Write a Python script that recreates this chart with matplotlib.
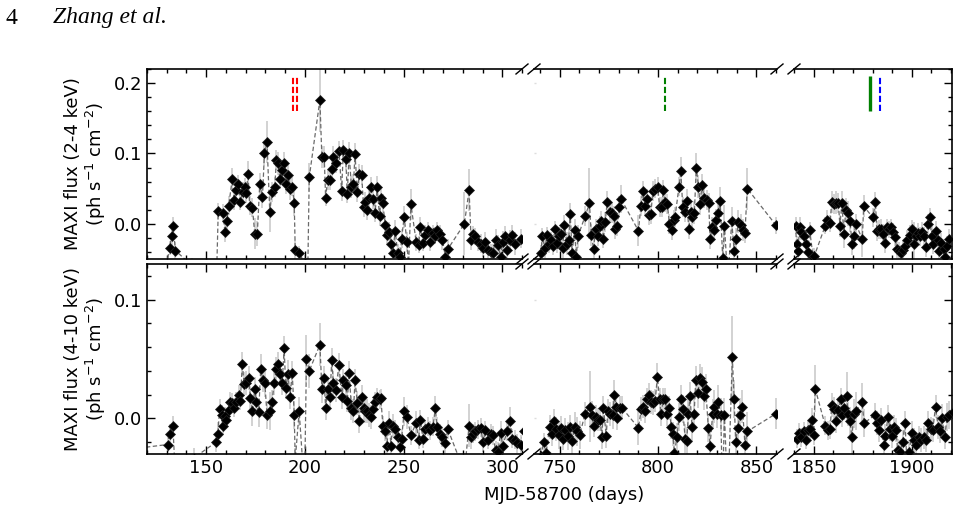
import matplotlib
matplotlib.use('Agg')
import matplotlib.pyplot as plt
from matplotlib.ticker import MultipleLocator

# ---------------- data: soft band (2-4 keV) ----------------
t_soft_1 = [116.0, 131.4, 132.5, 133.2, 134.4, 143.0, 155.0, 156.1, 158.5, 159.5,
            160.5, 161.4, 163.2, 164.1, 165.3, 166.3, 167.1, 168.5, 169.5, 170.3,
            171.2, 172.0, 173.4, 174.6, 175.9, 177.1, 178.5, 179.5, 180.8, 182.2,
            183.4, 184.7, 185.6, 186.4, 187.3, 188.5, 189.3, 190.3, 191.5, 192.4,
            193.6, 194.6, 195.1, 197.1, 199.8, 201.0, 202.2, 207.6, 208.6, 209.8,
            210.5, 211.5, 212.7, 213.6, 214.4, 215.6, 217.3, 218.6, 219.5, 220.7,
            221.5, 222.4, 223.6, 224.6, 225.4, 226.6, 227.5, 228.8, 229.7, 230.5,
            231.4, 232.5, 233.4, 234.4, 235.6, 236.6, 237.8, 238.5, 239.5, 240.7,
            241.5, 242.7, 243.6, 244.4, 245.8, 247.0, 248.3, 249.0, 250.3, 251.7,
            252.5, 253.7, 256.4, 257.6, 258.5, 259.8, 261.0, 262.4, 263.6, 264.9,
            266.1, 266.9, 268.3, 269.7, 271.2, 272.4, 280.8, 283.2, 284.2, 285.3,
            286.4, 287.6, 289.0, 290.3, 291.5, 292.7, 294.1, 295.3, 296.6, 297.8,
            299.2, 300.2, 301.4, 302.5, 303.9, 305.1, 306.3, 309.3]
f_soft_1 = [-0.300, -0.034, -0.018, -0.003, -0.038, -0.060, -0.100, 0.018, 0.016, -0.012,
            0.004, 0.026, 0.064, 0.034, 0.048, 0.056, 0.031, 0.045, 0.053, 0.044,
            0.071, 0.026, 0.023, -0.014, -0.014, 0.056, 0.038, 0.100, 0.116, 0.017,
            0.045, 0.052, 0.091, 0.086, 0.064, 0.076, 0.086, 0.057, 0.069, 0.050,
            0.053, 0.029, -0.037, -0.042, -0.055, -0.150, 0.066, 0.176, 0.095, 0.095,
            0.037, 0.062, 0.062, 0.078, 0.095, 0.086, 0.104, 0.047, 0.105, 0.092,
            0.043, 0.100, 0.052, 0.057, 0.099, 0.045, 0.071, 0.069, 0.024, 0.031,
            0.019, 0.036, 0.052, 0.035, 0.016, 0.052, 0.011, 0.036, 0.029, -0.002,
            -0.016, -0.011, -0.028, -0.041, -0.010, -0.042, -0.047, -0.021, 0.010, -0.026,
            -0.060, 0.028, -0.026, -0.030, -0.004, -0.027, -0.016, -0.009, -0.026, -0.013,
            -0.017, -0.009, -0.014, -0.023, -0.047, -0.036, 0.000, 0.048, -0.023, -0.015,
            -0.018, -0.026, -0.028, -0.035, -0.026, -0.037, -0.040, -0.041, -0.023, -0.030,
            -0.047, -0.026, -0.017, -0.037, -0.023, -0.016, -0.028, -0.021]
e_soft_1 = [0.010, 0.010, 0.012, 0.012, 0.012, 0.012, 0.012, 0.012, 0.012, 0.014,
            0.012, 0.014, 0.016, 0.014, 0.014, 0.014, 0.012, 0.014, 0.012, 0.014,
            0.018, 0.014, 0.014, 0.022, 0.018, 0.016, 0.016, 0.018, 0.030, 0.028,
            0.014, 0.014, 0.014, 0.016, 0.014, 0.014, 0.016, 0.014, 0.014, 0.016,
            0.014, 0.018, 0.014, 0.010, 0.010, 0.010, 0.020, 0.045, 0.015, 0.016,
            0.012, 0.014, 0.014, 0.014, 0.016, 0.014, 0.014, 0.014, 0.014, 0.016,
            0.014, 0.016, 0.016, 0.014, 0.016, 0.014, 0.014, 0.014, 0.014, 0.014,
            0.014, 0.014, 0.014, 0.014, 0.014, 0.016, 0.014, 0.014, 0.014, 0.012,
            0.012, 0.014, 0.014, 0.014, 0.016, 0.014, 0.014, 0.014, 0.016, 0.014,
            0.014, 0.022, 0.012, 0.012, 0.014, 0.012, 0.014, 0.012, 0.012, 0.012,
            0.012, 0.012, 0.012, 0.014, 0.014, 0.014, 0.045, 0.030, 0.014, 0.012,
            0.012, 0.012, 0.014, 0.012, 0.014, 0.012, 0.012, 0.012, 0.016, 0.014,
            0.014, 0.016, 0.014, 0.014, 0.014, 0.014, 0.016, 0.014]

t_soft_2 = [740.5, 741.2, 742.6, 743.6, 744.6, 745.6, 746.6, 747.5, 748.6, 749.7,
            750.7, 751.5, 752.5, 753.7, 754.6, 755.4, 756.4, 757.6, 758.5, 759.3,
            763.0, 765.2, 766.1, 767.3, 768.3, 769.3, 770.3, 771.3, 772.3, 773.2,
            774.2, 775.7, 776.7, 777.7, 778.4, 779.4, 780.3, 781.3, 790.1, 791.3,
            792.3, 793.3, 794.3, 795.3, 796.4, 797.4, 798.6, 799.9, 800.8, 801.8,
            802.8, 803.6, 804.8, 805.8, 806.9, 807.9, 808.7, 810.7, 811.6, 812.6,
            813.6, 814.6, 815.7, 816.7, 817.5, 818.5, 819.5, 820.6, 821.4, 822.4,
            823.4, 824.8, 825.8, 826.5, 827.5, 828.5, 829.5, 830.7, 831.6, 832.9,
            833.8, 835.5, 837.5, 838.7, 839.7, 840.9, 842.0, 843.1, 844.2, 845.4,
            860.0]
f_soft_2 = [-0.042, -0.018, -0.035, -0.016, -0.028, -0.023, -0.031, -0.008, -0.027, -0.018,
            -0.014, -0.035, -0.002, -0.028, -0.023, 0.014, -0.041, -0.009, -0.047, -0.018,
            0.011, 0.029, -0.016, -0.036, -0.007, -0.017, -0.003, 0.004, -0.021, 0.003,
            0.031, 0.017, 0.015, 0.011, -0.008, -0.003, 0.024, 0.035, -0.010, 0.025,
            0.047, 0.026, 0.035, 0.012, 0.014, 0.047, 0.050, 0.053, 0.024, 0.024,
            0.048, 0.031, 0.028, 0.000, -0.009, 0.005, 0.010, 0.053, 0.075, 0.024,
            0.017, 0.033, -0.008, 0.017, 0.010, 0.016, 0.080, 0.053, 0.028, 0.055,
            0.037, 0.034, 0.030, -0.022, -0.005, -0.009, 0.005, 0.016, 0.033, -0.049,
            -0.003, -0.080, 0.004, -0.038, -0.022, 0.003, -0.002, -0.009, -0.013, 0.050,
            -0.002]
e_soft_2 = [0.012, 0.012, 0.014, 0.012, 0.014, 0.012, 0.014, 0.012, 0.014, 0.014,
            0.012, 0.014, 0.014, 0.016, 0.014, 0.016, 0.014, 0.016, 0.014, 0.016,
            0.014, 0.050, 0.016, 0.016, 0.014, 0.014, 0.014, 0.014, 0.014, 0.014,
            0.016, 0.014, 0.014, 0.014, 0.014, 0.014, 0.016, 0.020, 0.022, 0.014,
            0.014, 0.014, 0.014, 0.014, 0.014, 0.014, 0.014, 0.014, 0.014, 0.014,
            0.014, 0.014, 0.014, 0.014, 0.014, 0.014, 0.014, 0.014, 0.020, 0.014,
            0.014, 0.016, 0.014, 0.014, 0.014, 0.016, 0.020, 0.016, 0.016, 0.016,
            0.014, 0.014, 0.014, 0.014, 0.014, 0.016, 0.016, 0.016, 0.020, 0.014,
            0.030, 0.014, 0.020, 0.016, 0.016, 0.016, 0.016, 0.016, 0.014, 0.030,
            0.012]

t_soft_3 = [1840.8, 1841.3, 1841.9, 1843.0, 1843.8, 1845.0, 1846.0, 1847.0, 1848.0, 1849.7,
            1850.3, 1855.9, 1857.0, 1858.4, 1859.2, 1860.4, 1861.4, 1862.6, 1863.4, 1864.4,
            1865.4, 1866.4, 1867.6, 1868.5, 1869.6, 1870.6, 1871.5, 1874.8, 1875.5, 1880.2,
            1881.5, 1882.2, 1883.2, 1884.2, 1885.2, 1886.6, 1887.6, 1888.6, 1889.6, 1890.6,
            1891.6, 1892.3, 1893.3, 1894.5, 1895.6, 1896.6, 1897.8, 1899.0, 1900.0, 1901.2,
            1902.0, 1903.2, 1904.2, 1905.0, 1906.2, 1907.0, 1908.1, 1909.1, 1910.1, 1910.9,
            1912.1, 1913.3, 1914.1, 1915.1, 1916.3, 1917.1, 1918.1, 1919.1]
f_soft_3 = [-0.003, -0.029, -0.038, -0.004, -0.011, -0.018, -0.029, -0.040, -0.009, -0.047,
            -0.046, -0.003, 0.006, 0.001, 0.031, 0.028, 0.030, 0.030, -0.003, 0.030,
            -0.015, 0.020, 0.015, 0.004, -0.029, -0.018, 0.000, -0.022, 0.025, 0.009,
            0.031, -0.010, -0.008, -0.007, -0.014, -0.027, -0.005, -0.008, -0.005, -0.011,
            -0.019, -0.036, -0.038, -0.042, -0.037, -0.032, -0.023, -0.016, -0.008, -0.029,
            -0.018, -0.013, -0.018, -0.011, -0.018, -0.033, 0.000, 0.009, -0.017, -0.029,
            -0.010, -0.023, -0.038, -0.027, -0.036, -0.047, -0.032, -0.022]
e_soft_3 = [0.012, 0.012, 0.012, 0.014, 0.012, 0.014, 0.012, 0.012, 0.012, 0.012,
            0.012, 0.012, 0.014, 0.012, 0.016, 0.014, 0.016, 0.014, 0.016, 0.016,
            0.020, 0.016, 0.018, 0.016, 0.016, 0.018, 0.014, 0.025, 0.016, 0.014,
            0.014, 0.014, 0.014, 0.014, 0.014, 0.014, 0.012, 0.012, 0.012, 0.012,
            0.012, 0.012, 0.012, 0.012, 0.012, 0.012, 0.014, 0.014, 0.014, 0.032,
            0.014, 0.014, 0.014, 0.014, 0.014, 0.014, 0.014, 0.014, 0.014, 0.014,
            0.014, 0.014, 0.014, 0.014, 0.014, 0.014, 0.014, 0.014]

# ---------------- data: hard band (4-10 keV) ----------------
t_hard_1 = [116.0, 130.5, 131.4, 133.1, 134.4, 144.0, 155.0, 155.9, 156.8, 158.0,
            158.5, 159.3, 160.2, 161.4, 162.2, 163.2, 164.1, 165.3, 166.4, 167.3,
            168.3, 169.2, 170.3, 171.5, 172.4, 173.4, 174.6, 175.4, 176.6, 177.6,
            178.8, 179.7, 180.8, 182.2, 183.4, 184.4, 185.3, 186.4, 187.3, 188.5,
            189.5, 190.3, 191.5, 192.4, 193.6, 194.6, 195.1, 197.1, 199.8, 200.8,
            202.2, 207.6, 208.6, 209.7, 210.5, 211.5, 212.7, 213.6, 214.4, 215.6,
            217.3, 218.6, 219.5, 220.7, 221.5, 222.4, 223.6, 224.6, 225.4, 226.6,
            227.5, 228.8, 229.7, 230.5, 231.4, 232.5, 233.4, 234.4, 235.6, 236.6,
            237.8, 238.5, 239.5, 240.7, 241.5, 242.7, 243.6, 244.4, 245.8, 247.0,
            248.3, 249.0, 250.3, 251.7, 253.7, 256.4, 257.6, 258.5, 259.8, 261.0,
            262.4, 263.6, 264.9, 266.1, 266.9, 268.3, 269.7, 271.2, 272.4, 280.8,
            283.2, 284.2, 285.3, 286.4, 287.6, 289.0, 290.3, 291.5, 292.7, 294.1,
            295.3, 296.6, 297.8, 299.2, 300.2, 302.5, 303.9, 305.1, 306.3, 307.5,
            309.3, 311.0]
f_hard_1 = [-0.025, -0.022, -0.013, -0.006, -0.050, -0.033, -0.020, -0.013, 0.008, 0.003,
            -0.006, 0.002, -0.001, 0.007, 0.014, 0.013, 0.009, 0.014, 0.020, 0.015,
            0.046, 0.029, 0.030, 0.034, 0.017, 0.006, 0.025, 0.014, 0.005, 0.042,
            0.032, 0.030, 0.003, 0.006, 0.014, 0.030, 0.042, 0.046, 0.037, 0.030,
            0.059, 0.026, 0.037, 0.018, 0.038, 0.003, -0.035, 0.006, -0.060, 0.050,
            0.040, 0.062, 0.025, 0.034, 0.009, 0.025, 0.018, 0.049, 0.030, 0.024,
            0.045, 0.018, 0.032, 0.028, 0.015, 0.038, 0.009, 0.006, 0.032, 0.013,
            -0.002, 0.018, 0.009, 0.006, 0.006, 0.003, 0.001, 0.008, 0.014, 0.018,
            0.016, 0.017, -0.006, -0.011, -0.023, -0.004, -0.023, -0.006, -0.009, -0.016,
            -0.024, -0.017, 0.006, 0.001, -0.014, -0.004, -0.018, -0.001, -0.017, -0.009,
            -0.007, -0.010, -0.007, 0.009, -0.007, -0.013, -0.016, -0.021, -0.009, -0.045,
            -0.006, -0.016, -0.013, -0.011, -0.009, -0.008, -0.020, -0.010, -0.018, -0.013,
            -0.014, -0.027, -0.028, -0.012, -0.023, -0.011, -0.002, -0.017, -0.018, -0.021,
            -0.022, -0.011]
e_hard_1 = [0.006, 0.006, 0.008, 0.008, 0.008, 0.008, 0.008, 0.010, 0.008, 0.008,
            0.008, 0.008, 0.008, 0.008, 0.008, 0.008, 0.008, 0.008, 0.008, 0.008,
            0.010, 0.010, 0.010, 0.010, 0.010, 0.012, 0.010, 0.010, 0.012, 0.012,
            0.010, 0.012, 0.012, 0.016, 0.010, 0.010, 0.010, 0.010, 0.010, 0.010,
            0.010, 0.010, 0.012, 0.010, 0.010, 0.012, 0.010, 0.012, 0.010, 0.020,
            0.014, 0.018, 0.012, 0.010, 0.010, 0.010, 0.010, 0.010, 0.010, 0.010,
            0.010, 0.010, 0.010, 0.010, 0.010, 0.010, 0.010, 0.010, 0.010, 0.010,
            0.010, 0.010, 0.010, 0.010, 0.010, 0.010, 0.010, 0.008, 0.008, 0.008,
            0.008, 0.008, 0.008, 0.008, 0.008, 0.010, 0.008, 0.010, 0.008, 0.008,
            0.008, 0.008, 0.012, 0.010, 0.008, 0.010, 0.008, 0.008, 0.008, 0.008,
            0.008, 0.008, 0.008, 0.010, 0.008, 0.008, 0.008, 0.008, 0.008, 0.010,
            0.018, 0.010, 0.008, 0.008, 0.008, 0.008, 0.008, 0.008, 0.008, 0.008,
            0.008, 0.008, 0.008, 0.010, 0.008, 0.008, 0.012, 0.008, 0.008, 0.008,
            0.008, 0.008]

t_hard_2 = [740.5, 741.9, 743.2, 744.9, 746.1, 747.3, 748.3, 749.5, 750.7, 751.7,
            752.9, 754.1, 755.4, 756.4, 757.6, 758.8, 760.2, 763.0, 765.6, 766.4,
            767.3, 768.3, 769.5, 770.6, 771.5, 772.3, 773.7, 774.5, 775.7, 776.9,
            777.9, 778.7, 779.4, 780.5, 781.6, 790.1, 791.5, 792.6, 793.5, 794.3,
            795.3, 796.4, 797.4, 798.6, 799.7, 800.8, 801.6, 802.8, 803.6, 804.8,
            805.8, 806.7, 807.5, 808.4, 809.6, 810.7, 811.6, 812.6, 813.8, 814.6,
            815.5, 816.3, 817.3, 818.4, 819.2, 820.2, 821.4, 822.4, 823.3, 824.3,
            825.6, 826.5, 827.8, 828.7, 829.9, 830.7, 831.9, 832.8, 833.8, 835.5,
            837.8, 838.7, 839.5, 840.5, 841.7, 842.9, 844.2, 845.4, 860.0]
f_hard_2 = [-0.032, -0.020, -0.029, -0.007, -0.013, -0.002, -0.009, -0.014, -0.008, -0.017,
            -0.010, -0.015, -0.007, -0.019, -0.007, -0.011, -0.014, 0.004, 0.010, 0.003,
            -0.006, 0.001, -0.001, -0.001, -0.016, 0.009, -0.015, 0.006, 0.004, 0.003,
            0.020, 0.010, 0.000, 0.009, 0.009, -0.008, 0.008, 0.010, 0.006, 0.016,
            0.020, 0.014, 0.013, 0.015, 0.035, 0.016, 0.004, 0.016, 0.016, 0.004,
            0.009, -0.007, -0.013, -0.029, -0.016, 0.001, 0.016, 0.008, -0.017, -0.019,
            0.004, 0.019, -0.007, 0.004, 0.032, 0.021, 0.034, 0.031, 0.019, 0.025,
            -0.008, -0.023, 0.004, 0.010, 0.004, 0.014, 0.003, -0.060, 0.003, -0.070,
            0.052, 0.016, -0.020, -0.008, 0.003, 0.010, -0.022, -0.011, 0.004]
e_hard_2 = [0.008, 0.008, 0.008, 0.010, 0.010, 0.010, 0.010, 0.012, 0.010, 0.010,
            0.010, 0.012, 0.010, 0.012, 0.012, 0.012, 0.012, 0.010, 0.030, 0.012,
            0.010, 0.010, 0.010, 0.010, 0.010, 0.010, 0.010, 0.010, 0.010, 0.012,
            0.012, 0.010, 0.010, 0.010, 0.010, 0.014, 0.010, 0.010, 0.010, 0.010,
            0.010, 0.010, 0.010, 0.010, 0.012, 0.010, 0.010, 0.010, 0.010, 0.010,
            0.010, 0.010, 0.010, 0.010, 0.012, 0.012, 0.012, 0.012, 0.012, 0.012,
            0.012, 0.012, 0.012, 0.012, 0.012, 0.012, 0.012, 0.012, 0.012, 0.012,
            0.012, 0.012, 0.012, 0.014, 0.012, 0.014, 0.014, 0.012, 0.014, 0.012,
            0.034, 0.016, 0.014, 0.014, 0.014, 0.014, 0.014, 0.016, 0.013]

t_hard_3 = [1841.3, 1842.5, 1843.6, 1845.0, 1846.1, 1847.1, 1848.3, 1849.2, 1850.0, 1850.8,
            1855.9, 1857.2, 1858.4, 1859.2, 1860.4, 1861.4, 1862.6, 1863.8, 1864.6, 1865.6,
            1866.8, 1867.6, 1868.5, 1869.5, 1870.5, 1871.8, 1874.7, 1875.7, 1881.4, 1882.2,
            1883.2, 1884.4, 1885.6, 1886.6, 1887.8, 1889.0, 1890.0, 1891.1, 1892.0, 1892.8,
            1894.0, 1895.3, 1896.6, 1897.6, 1898.7, 1900.0, 1901.2, 1902.3, 1903.7, 1904.9,
            1906.2, 1907.4, 1908.4, 1909.6, 1910.7, 1912.1, 1913.4, 1914.6, 1915.4, 1916.8,
            1918.0, 1919.1, 1921.0]
f_hard_3 = [-0.017, -0.012, -0.016, -0.011, -0.018, -0.010, -0.009, -0.001, -0.014, 0.025,
            -0.006, -0.010, -0.009, 0.011, 0.008, -0.002, 0.007, 0.016, 0.003, 0.009,
            0.019, 0.004, -0.002, -0.016, 0.004, 0.006, 0.014, -0.004, 0.003, -0.004,
            -0.010, -0.001, -0.022, -0.015, 0.001, -0.009, -0.015, -0.007, -0.010, -0.027,
            -0.028, -0.020, -0.004, -0.040, -0.028, -0.012, -0.018, -0.022, -0.016, -0.018,
            -0.016, -0.018, -0.004, -0.009, -0.010, 0.010, -0.007, -0.011, 0.000, -0.016,
            0.001, 0.003, 0.005]
e_hard_3 = [0.008, 0.008, 0.008, 0.008, 0.008, 0.008, 0.008, 0.010, 0.008, 0.020,
            0.008, 0.008, 0.008, 0.010, 0.010, 0.010, 0.010, 0.010, 0.010, 0.010,
            0.020, 0.010, 0.012, 0.016, 0.012, 0.016, 0.016, 0.012, 0.010, 0.010,
            0.010, 0.010, 0.010, 0.010, 0.010, 0.010, 0.010, 0.010, 0.010, 0.010,
            0.010, 0.010, 0.010, 0.010, 0.010, 0.010, 0.010, 0.010, 0.010, 0.010,
            0.010, 0.010, 0.010, 0.010, 0.010, 0.010, 0.010, 0.010, 0.012, 0.010,
            0.012, 0.012, 0.012]

# event markers (x positions, data units)
red_events = [193.8, 196.0]
green_dashed_events = [803.5]
green_solid_events = [1878.5]
blue_dashed_events = [1883.6]
event_ymin, event_ymax = 0.16, 0.21

soft_label = 'MAXI flux (2-4 keV)\n(ph s$^{-1}$ cm$^{-2}$)'
hard_label = 'MAXI flux (4-10 keV)\n(ph s$^{-1}$ cm$^{-2}$)'
xlabel = 'MJD-58700 (days)'

# ---------------- layout ----------------
W, H = 965, 512
fig = plt.figure(figsize=(W / 100, H / 100), dpi=100)

cols_px = [(147, 522), (534, 777), (794, 952)]
rows_px = [(69, 259), (264, 454)]
xlims = [(120, 310), (737, 860.5), (1840, 1920.5)]
ylims = [(-0.05, 0.22), (-0.03, 0.13)]

data = [
    [(t_soft_1, f_soft_1, e_soft_1), (t_soft_2, f_soft_2, e_soft_2), (t_soft_3, f_soft_3, e_soft_3)],
    [(t_hard_1, f_hard_1, e_hard_1), (t_hard_2, f_hard_2, e_hard_2), (t_hard_3, f_hard_3, e_hard_3)],
]

FS = 13
axes = [[None] * 3 for _ in range(2)]
for r, (y0, y1) in enumerate(rows_px):
    for c, (x0, x1) in enumerate(cols_px):
        ax = fig.add_axes([x0 / W, 1 - y1 / H, (x1 - x0) / W, (y1 - y0) / H])
        axes[r][c] = ax
        t, f, e = data[r][c]
        ax.errorbar(t, f, yerr=e, fmt='none', ecolor='#cbcbcb', elinewidth=1.2, zorder=1)
        ax.plot(t, f, ls=(0, (3.5, 2)), color='#6a6a6a', lw=0.9, zorder=2)
        ax.plot(t, f, ls='none', marker='D', color='k', ms=5.2, mec='#222222', mew=0.5, zorder=3)
        ax.set_xlim(*xlims[c])
        ax.set_ylim(*ylims[r])
        ax.xaxis.set_major_locator(MultipleLocator(50))
        ax.xaxis.set_minor_locator(MultipleLocator(10))
        ax.yaxis.set_major_locator(MultipleLocator(0.1))
        ax.yaxis.set_minor_locator(MultipleLocator(0.02))
        for s in ax.spines.values():
            s.set_linewidth(1.2)
        ax.spines['left'].set_visible(c == 0)
        ax.spines['right'].set_visible(c == 2)
        ax.tick_params(which='both', direction='in', top=True, bottom=True,
                       left=(c == 0), right=(c == 2), labelsize=FS, width=1.0,
                       labelleft=(c == 0), labelright=False, labelbottom=(r == 1))
        ax.tick_params(which='major', length=5.5)
        ax.tick_params(which='minor', length=3.2)
        if c == 1:
            ax.tick_params(axis='y', which='major', left=True, color='#dddddd', length=1.5)
        # break marks
        w_px, h_px = x1 - x0, y1 - y0
        dx, dy = 6 / w_px, 5 / h_px
        kw = dict(transform=ax.transAxes, color='k', clip_on=False, lw=1.0)
        if c < 2:
            ax.plot([1 - dx, 1 + dx], [-dy, dy], **kw)
            ax.plot([1 - dx, 1 + dx], [1 - dy, 1 + dy], **kw)
        if c > 0:
            ax.plot([-dx, dx], [-dy, dy], **kw)
            ax.plot([-dx, dx], [1 - dy, 1 + dy], **kw)

# event lines (top row)
axes[0][0].vlines(red_events, event_ymin, event_ymax, colors='red', linestyles=(0, (3, 1.3)), lw=1.5, zorder=4)
axes[0][1].vlines(green_dashed_events, event_ymin, event_ymax, colors='green', linestyles=(0, (3, 1.3)), lw=1.5, zorder=4)
axes[0][2].vlines(green_solid_events, event_ymin, event_ymax, colors='green', linestyles='-', lw=2.4, zorder=4)
axes[0][2].vlines(blue_dashed_events, event_ymin, event_ymax, colors='blue', linestyles=(0, (3, 1.3)), lw=1.5, zorder=4)

# labels
for (y0, y1), lab in zip(rows_px, [soft_label, hard_label]):
    fig.text(86 / W, 1 - ((y0 + y1) / 2) / H, lab, rotation=90, ha='center', va='center',
             fontsize=FS, multialignment='center', linespacing=1.1)
fig.text(564.5 / W, 1 - 495 / H, xlabel, ha='center', va='center', fontsize=FS)

# page header
fig.text(11 / W, 1 - 18 / H, '4', family='Liberation Serif', fontsize=17, ha='center', va='center')
fig.text(53 / W, 1 - 18 / H, 'Zhang et al.', family='Liberation Serif', style='italic',
         fontsize=17, ha='left', va='center')

fig.savefig('out.png', dpi=100)
